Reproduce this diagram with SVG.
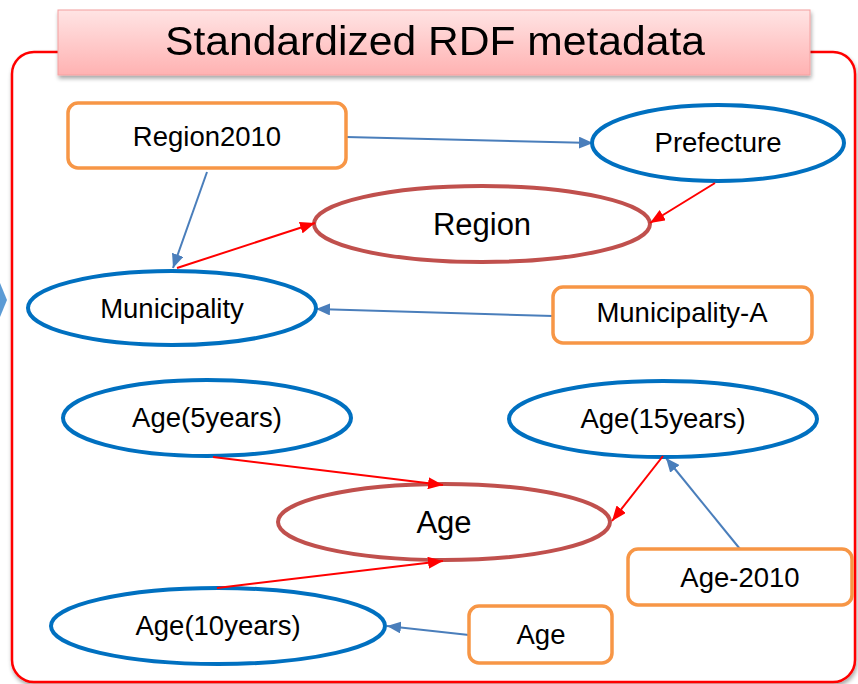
<svg xmlns="http://www.w3.org/2000/svg" width="858" height="684" viewBox="0 0 858 684">
<defs>
<linearGradient id="tg" x1="0" y1="0" x2="0" y2="1">
<stop offset="0" stop-color="#ffe4e4"/>
<stop offset="1" stop-color="#ffb2b2"/>
</linearGradient>
<filter id="sh" x="-5%" y="-5%" width="110%" height="120%">
<feGaussianBlur in="SourceAlpha" stdDeviation="2"/>
<feOffset dx="1" dy="3" result="o"/>
<feComponentTransfer><feFuncA type="linear" slope="0.35"/></feComponentTransfer>
<feMerge><feMergeNode/><feMergeNode in="SourceGraphic"/></feMerge>
</filter>
<marker id="ab" viewBox="0 0 14 12" refX="14" refY="6" markerWidth="14" markerHeight="12" markerUnits="userSpaceOnUse" orient="auto">
<path d="M0,0 L14,6 L0,12 z" fill="#4a7ebb"/>
</marker>
<marker id="ar" viewBox="0 0 15 12" refX="15" refY="6" markerWidth="15" markerHeight="12" markerUnits="userSpaceOnUse" orient="auto">
<path d="M0,0 L15,6 L0,12 z" fill="#ff0000"/>
</marker>
</defs>
<style>
text{font-family:"Liberation Sans",Arial,sans-serif;fill:#000;text-anchor:middle}
.lbl{font-size:27.5px}
.big{font-size:31px}
.ell{fill:#fff;stroke:#0070c0;stroke-width:4}
.cls{fill:#fff;stroke:#c0504d;stroke-width:4}
.box{fill:#fff;stroke:#f79646;stroke-width:3.5}
.cb{stroke:#4a7ebb;stroke-width:2;fill:none;marker-end:url(#ab)}
.cr{stroke:#ff0000;stroke-width:2;fill:none;marker-end:url(#ar)}
</style>
<rect width="858" height="684" fill="#fff"/>
<path d="M0,283 L7,300 L0,317 z" fill="#5b9bd5"/>
<g id="frame" filter="url(#sh)">
<rect x="12" y="52" width="843" height="630" rx="22" fill="#fff" stroke="#ff0000" stroke-width="2.5"/>
</g>
<g id="title" filter="url(#sh)">
<rect x="58" y="10" width="752" height="65" fill="url(#tg)" stroke="#f4a0a0" stroke-width="1"/>
<text x="435" y="55" font-size="40" textLength="540" lengthAdjust="spacingAndGlyphs">Standardized RDF metadata</text>
</g>
<g id="connectors">
<line class="cb" x1="346" y1="137" x2="593" y2="143"/>
<line class="cb" x1="207" y1="172" x2="173" y2="268"/>
<line class="cb" x1="553" y1="316" x2="316" y2="309"/>
<line class="cb" x1="740" y1="549" x2="666" y2="458"/>
<line class="cb" x1="469" y1="635" x2="387" y2="626"/>
</g>
<g id="Region2010"><rect class="box" x="68" y="103" width="278" height="65" rx="10"/><text class="lbl" x="207" y="146">Region2010</text></g>
<g id="Prefecture"><ellipse class="ell" cx="718" cy="143" rx="126" ry="38"/><text class="lbl" x="718" y="152">Prefecture</text></g>
<g id="Region"><ellipse class="cls" cx="482" cy="224" rx="168" ry="38"/><text class="big" x="482" y="235">Region</text></g>
<g id="Municipality"><ellipse class="ell" cx="172" cy="308" rx="144" ry="37"/><text class="lbl" x="172" y="318">Municipality</text></g>
<g id="Municipality-A"><rect class="box" x="553" y="287" width="259" height="56" rx="10"/><text class="lbl" x="682" y="322">Municipality-A</text></g>
<g id="Age5"><ellipse class="ell" cx="207" cy="418" rx="144" ry="38"/><text class="lbl" x="207" y="427">Age(5years)</text></g>
<g id="Age15"><ellipse class="ell" cx="663" cy="419" rx="154" ry="38"/><text class="lbl" x="663" y="428">Age(15years)</text></g>
<g id="AgeClass"><ellipse class="cls" cx="444" cy="522" rx="166" ry="38"/><text class="big" x="444" y="533">Age</text></g>
<g id="Age-2010"><rect class="box" x="628" y="549" width="224" height="56" rx="10"/><text class="lbl" x="740" y="587">Age-2010</text></g>
<g id="Age10"><ellipse class="ell" cx="218" cy="626" rx="167" ry="38"/><text class="lbl" x="218" y="635">Age(10years)</text></g>
<g id="AgeBox"><rect class="box" x="469" y="606" width="143" height="57" rx="10"/><text class="lbl" x="541" y="644">Age</text></g>
<g id="connectors-red">
<line class="cr" x1="177" y1="268" x2="315" y2="223"/>
<line class="cr" x1="715" y1="183" x2="650" y2="223"/>
<line class="cr" x1="213" y1="457" x2="443" y2="485"/>
<line class="cr" x1="663" y1="456" x2="612" y2="521"/>
<line class="cr" x1="217" y1="588" x2="443" y2="561"/>
</g>
</svg>
